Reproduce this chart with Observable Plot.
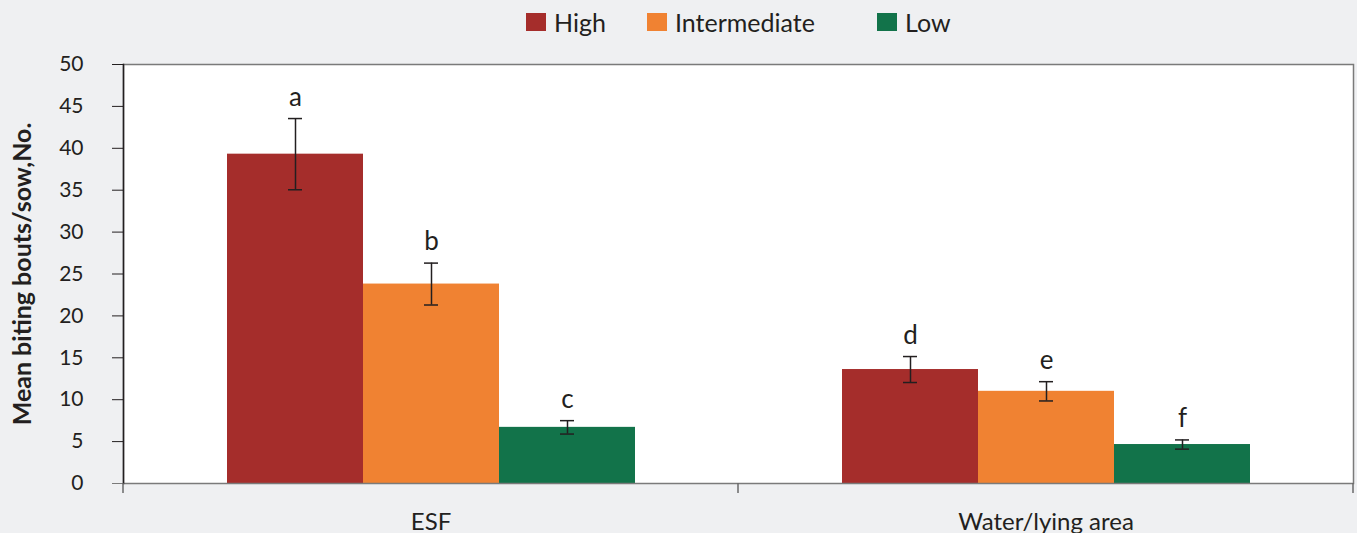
<!DOCTYPE html>
<html>
<head>
<meta charset="utf-8">
<script src="https://cdn.jsdelivr.net/npm/d3@7"></script>
<script src="https://cdn.jsdelivr.net/npm/@observablehq/plot@0.6"></script>
<style>
  html, body { margin: 0; padding: 0; background: #eff0f2; }
  body { width: 1357px; height: 533px; overflow: hidden; font-family: Lato, sans-serif; color: #231f20; }
  #legend { height: 46px; position: relative; font-size: 25px; }
  .item { position: absolute; top: 5px; display: flex; align-items: center; height: 34px; }
  .sw { width: 20px; height: 18px; margin-right: 8px; }
</style>
</head>
<body>
<div id="legend"></div>
<div id="chart"></div>
<script>
// ---- data ----
const categories = ["ESF", "Water/lying area"];
const levels = ["High", "Intermediate", "Low"];
const levelColors = ["#a52d2b", "#f08232", "#12734a"];
const esfMeans = [39.3, 23.8, 6.7];
const esfSE = [4.25, 2.5, 0.8];
const esfLetters = ["a", "b", "c"];
const waterMeans = [13.6, 11.0, 4.65];
const waterSE = [1.55, 1.15, 0.55];
const waterLetters = ["d", "e", "f"];
const yTicks = [0, 5, 10, 15, 20, 25, 30, 35, 40, 45, 50];
const yLabel = "Mean biting bouts/sow,No.";

const rows = [];
levels.forEach((l, i) => rows.push({cat: categories[0], level: l, mean: esfMeans[i], se: esfSE[i], letter: esfLetters[i]}));
levels.forEach((l, i) => rows.push({cat: categories[1], level: l, mean: waterMeans[i], se: waterSE[i], letter: waterLetters[i]}));

// ---- legend ----
const legendLeft = [526, 647, 877];
const legend = document.getElementById("legend");
levels.forEach((l, i) => {
  const it = document.createElement("div");
  it.className = "item";
  it.style.left = legendLeft[i] + "px";
  it.innerHTML = `<span class="sw" style="background:${levelColors[i]}"></span><span>${l}</span>`;
  legend.appendChild(it);
});

// ---- chart ----
const ink = "#231f20";
const chart = Plot.plot({
  width: 1357,
  height: 487,
  marginLeft: 122,
  marginRight: 4,
  marginTop: 18,
  marginBottom: 50,
  style: {background: "transparent", fontFamily: "Lato, sans-serif", fontSize: "21px", color: ink, overflow: "visible"},
  fx: {domain: categories, padding: 0, label: null},
  x: {domain: levels, paddingInner: 0, paddingOuter: 0.745, axis: null},
  y: {domain: [0, 50], label: null},
  color: {domain: levels, range: levelColors},
  marks: [
    Plot.frame({fill: "white", facet: "super"}),
    Plot.barY(rows, {fx: "cat", x: "level", y: "mean", fill: "level"}),
    Plot.ruleX(rows, {fx: "cat", x: "level", y1: d => d.mean - d.se, y2: d => d.mean + d.se, stroke: ink, strokeWidth: 1.5}),
    Plot.tickY(rows, {fx: "cat", x: "level", y: d => d.mean - d.se, stroke: ink, strokeWidth: 1.5, insetLeft: 61, insetRight: 61}),
    Plot.tickY(rows, {fx: "cat", x: "level", y: d => d.mean + d.se, stroke: ink, strokeWidth: 1.5, insetLeft: 61, insetRight: 61}),
    Plot.text(rows, {fx: "cat", x: "level", y: d => d.mean + d.se, text: "letter", dy: -21, fontSize: 26, fill: ink}),
    Plot.frame({stroke: "#7a7a7a", strokeWidth: 1.5, facet: "super"}),
    Plot.axisY({ticks: yTicks.slice(1), tickSize: 11, tickPadding: 29, fontSize: 21, stroke: ink, label: null}),
    Plot.axisY({ticks: [0], tickSize: 11, tickPadding: 29, fontSize: 21, stroke: "#7a7a7a", label: null}),
    Plot.axisY({ticks: [], tickSize: 0, label: yLabel, labelAnchor: "center", labelArrow: "none", labelOffset: 110, fontSize: 25, fontWeight: "bold"}),
    Plot.frame({anchor: "left", stroke: ink, strokeWidth: 1.5, facet: "super"}),
    Plot.axisFx({anchor: "bottom", tickSize: 0, tickPadding: 29, fontSize: 24, label: null}),
    Plot.frame({facet: "super", stroke: "none", render: (index, scales, values, dims) => {
      const g = d3.create("svg:g");
      const left = dims.marginLeft, right = dims.width - dims.marginRight;
      const yb = dims.height - dims.marginBottom;
      const mids = categories.slice(1).map(c => scales.fx ? scales.fx(c) : (left + right) / 2);
      const xs = [left, ...mids, right];
      xs.forEach(x => g.append("line").attr("x1", x).attr("x2", x).attr("y1", yb).attr("y2", yb + 10)
        .attr("stroke", "#6a6a6a").attr("stroke-width", 1.5));
      return g.node();
    }})
  ]
});
document.getElementById("chart").appendChild(chart);
</script>
</body>
</html>
